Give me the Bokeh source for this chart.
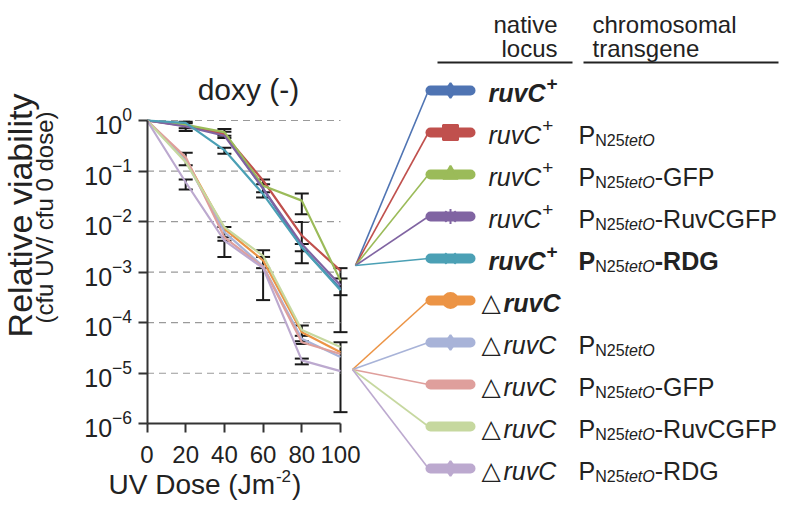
import math
from bokeh.plotting import figure
from bokeh.models import (Range1d, FixedTicker, Whisker, TeeHead, ColumnDataSource,
                          LinearAxis, LogAxis, LinearScale, LogScale)
from bokeh.embed import file_html
from bokeh.resources import INLINE
from bokeh.core.properties import value

# ---------------- data ----------------
dose = [0, 20, 40, 60, 80, 100]
x_ticks = [0, 20, 40, 60, 80, 100]
y_ticks = [1e-6, 1e-5, 1e-4, 1e-3, 1e-2, 1e-1, 1]

ruvC_wt = [1, 0.80, 0.55, 0.045, 0.0031, 0.00047]
ruvC_wt_P = [1, 0.78, 0.53, 0.065, 0.0053, 0.00107]
ruvC_wt_GFP = [1, 0.82, 0.59, 0.051, 0.026, 0.00068]
ruvC_wt_RuvCGFP = [1, 0.76, 0.50, 0.045, 0.0036, 0.00055]
ruvC_wt_RDG = [1, 0.90, 0.26, 0.035, 0.0031, 0.00044]
druvC = [1, 0.17, 0.0072, 0.0017, 6.5e-5, 2.6e-5]
druvC_P = [1, 0.16, 0.0062, 0.0013, 4.8e-5, 2.1e-5]
druvC_GFP = [1, 0.19, 0.0049, 0.00126, 4.1e-5, 2.4e-5]
druvC_RuvCGFP = [1, 0.15, 0.0078, 0.0021, 7.2e-5, 3.3e-5]
druvC_RDG = [1, 0.06, 0.0042, 0.0012, 1.8e-5, 1.1e-5]

series = [ruvC_wt, ruvC_wt_P, ruvC_wt_GFP, ruvC_wt_RuvCGFP, ruvC_wt_RDG,
          druvC, druvC_P, druvC_GFP, druvC_RuvCGFP, druvC_RDG]
colors = ["#4f74b3", "#c0504d", "#9bbb59", "#8064a2", "#4ba0b5",
          "#ec9445", "#a8b3d8", "#df9f9c", "#c6d89f", "#bca9cf"]

# error bars (dose, lower, upper)
err_dose = [20, 20, 40, 40, 40, 60, 60, 80, 80, 80, 100, 100,
            20, 20, 40, 40, 60, 60, 80, 80, 80, 100]
err_lo = [0.62, 0.70, 0.45, 0.50, 0.22, 0.030, 0.038, 0.014, 0.0015, 0.0026, 6.5e-5, 0.00035,
          0.13, 0.043, 0.0049, 0.0020, 0.00028, 0.0012, 3.8e-5, 4.3e-5, 1.5e-5, 1.7e-6]
err_hi = [0.95, 0.88, 0.68, 0.60, 0.29, 0.068, 0.055, 0.036, 0.0098, 0.0036, 0.0012, 0.00075,
          0.23, 0.068, 0.0078, 0.0042, 0.0027, 0.0020, 8.8e-5, 5.5e-5, 1.95e-5, 4.1e-5]

# legend entries
legend_delta = [False] * 5 + [True] * 5
legend_plus = [True] * 5 + [False] * 5
legend_has_P = [False, True, True, True, True, False, True, True, True, True]
legend_suffix = ["", "", "-GFP", "-RuvCGFP", "-RDG", "", "", "-GFP", "-RuvCGFP", "-RDG"]
legend_bold = [True, False, False, False, True, True, False, False, False, False]
legend_marker = ["diamond", "square", "triangle", "asterisk", "x",
                 "circle", "diamond", None, None, "diamond"]

FONT = "Liberation Sans"
TXT = "#222222"

# ---------------- layout constants (canvas pixels) ----------------
W, H = 789, 506
X0_PX, PX_X = 146.5, 1.935      # canvas x of dose 0, pixels per dose unit
Y0_PX, PX_DEC = 120.0, 50.55    # canvas y of viability 1, pixels per decade
TEXT_DY = -7                    # correction of glyph-text baseline placement

x_lo = -X0_PX / PX_X
x_hi = (W - X0_PX) / PX_X
y_hi = 10 ** (Y0_PX / PX_DEC)
y_lo = 10 ** (-(H - Y0_PX) / PX_DEC)


def iy(img_y):
    return H - img_y


p = figure(width=W, height=H, x_range=Range1d(x_lo, x_hi), y_range=Range1d(y_lo, y_hi),
           y_axis_type="log", x_axis_location=None, y_axis_location=None,
           output_backend="svg", toolbar_location=None, min_border=0)
p.y_scale = LogScale()
p.grid.visible = False
p.outline_line_color = None
p.extra_x_ranges = {"px": Range1d(0, W)}
p.extra_y_ranges = {"px": Range1d(0, H)}
p.extra_x_scales = {"px": LinearScale()}
p.extra_y_scales = {"px": LinearScale()}
PX = dict(x_range_name="px", y_range_name="px")

# dashed decade lines
dec = y_ticks[1:]
p.segment(x0=[0] * len(dec), x1=[100] * len(dec), y0=dec, y1=dec,
          line_color="#9a9a9a", line_width=1.2, line_dash="7 5")

for s, c in zip(series, colors):
    p.line(dose, s, line_color=c, line_width=2.2)

esrc = ColumnDataSource(dict(x=err_dose, lo=err_lo, hi=err_hi))
p.add_layout(Whisker(source=esrc, base="x", lower="lo", upper="hi",
                     line_color="#1a1a1a", line_width=2,
                     upper_head=TeeHead(size=14, line_width=2, line_color="#1a1a1a"),
                     lower_head=TeeHead(size=14, line_width=2, line_color="#1a1a1a")))

xax = LinearAxis(fixed_location=1e-6, ticker=FixedTicker(ticks=x_ticks), bounds=(0, 100))
yax = LogAxis(fixed_location=0, ticker=FixedTicker(ticks=y_ticks), bounds=(1e-6, 1))
for ax in (xax, yax):
    ax.axis_line_color = "#333333"
    ax.axis_line_width = 2
    ax.major_tick_line_color = "#333333"
    ax.major_tick_line_width = 2
    ax.major_tick_out = 9
    ax.major_tick_in = 0
    ax.minor_tick_line_color = None
    ax.major_label_text_font = FONT
    ax.major_label_text_color = TXT
xax.major_label_text_font_size = "24px"
yax.major_label_text_font_size = "25px"
xax.major_label_standoff = 13
yax.major_label_standoff = 6
p.add_layout(xax, "below")
p.add_layout(yax, "left")

# ---------------- texts ----------------
AW = {' ': 278, '+': 584, '-': 333, '2': 556, '5': 556, 'C': 722, 'D': 722, 'F': 611,
      'G': 778, 'N': 722, 'O': 778, 'P': 667, 'R': 722, 'e': 556, 'r': 333, 't': 278,
      'u': 556, 'v': 500, 'U': 722, 'V': 667, 'o': 556, 's': 500, '(': 333, 'J': 500,
      'm': 833, ')': 333}
AWB = dict(AW, r=389, u=611, v=556)


def tw(s, size, bold=False):
    t = AWB if bold else AW
    return sum(t.get(ch, 556) for ch in s) * size / 1000.0


tx, ty, tt, tsz, tst, tfn, tal = [], [], [], [], [], [], []


def piece(x, y, t, size, style="normal", font=FONT, align="left"):
    tx.append(x); ty.append(iy(y + TEXT_DY)); tt.append(t); tsz.append("%dpx" % size)
    tst.append(style); tfn.append(font); tal.append(align)


# title
piece(248, 96, "doxy (-)", 30, align="center")
# x title with superscript
xt = 108
piece(xt, 491, "UV Dose (Jm", 28)
xt += tw("UV Dose (Jm", 28) + 1
piece(xt, 482, "-2", 17)
xt += tw("-2", 17) + 1
piece(xt, 491, ")", 28)
# header of the legend
piece(557, 31, "native", 24, align="right")
piece(557, 55, "locus", 24, align="right")
piece(592, 31, "chromosomal", 24)
piece(592, 55, "transgene", 24)

# legend
row_y = [90 + 42 * i for i in range(10)]
conv = [(355, 265)] * 5 + [(352, 369)] * 5

for i, c in enumerate(colors):
    cx, cy = conv[i]
    p.line([cx, 428], [iy(cy), iy(row_y[i])], line_color=c, line_width=1.6, **PX)
    p.segment(x0=[430], x1=[470], y0=[iy(row_y[i])], y1=[iy(row_y[i])], line_color=c,
              line_width=10, line_cap="round", **PX)
    if legend_marker[i]:
        p.scatter([450], [iy(row_y[i])], marker=legend_marker[i], size=15, fill_color=c,
                  line_color=c, line_width=2, **PX)

for i in range(10):
    b = legend_bold[i]
    base = row_y[i] + 9
    if legend_delta[i]:
        piece(481, base, "\u25b3", 25, "normal", "DejaVu Sans")
        x = 503
    else:
        x = 488
    piece(x, base, "ruvC", 25, "bold italic" if b else "italic")
    x += tw("ruvC", 25, b) + 1
    if legend_plus[i]:
        piece(x, base - 9, "+", 19, "bold" if b else "normal")
    if legend_has_P[i]:
        x = 578
        piece(x, base, "P", 25, "bold" if b else "normal")
        x += tw("P", 25, b)
        piece(x, base + 6, "N25", 16)
        x += tw("N25", 16)
        piece(x, base + 6, "tetO", 16, "italic")
        x += tw("tetO", 16)
        if legend_suffix[i]:
            piece(x, base, legend_suffix[i], 25, "bold" if b else "normal")

tsrc = ColumnDataSource(dict(x=tx, y=ty, text=tt, size=tsz, style=tst, font=tfn, align=tal))
p.text(x="x", y="y", text="text", source=tsrc, text_font_size="size",
       text_font_style="style", text_font="font", text_align="align", text_color=TXT,
       text_baseline="alphabetic", **PX)

# rotated y-axis title (two lines)
p.text(x=[19, 44], y=[iy(215), iy(217)], text=["Relative viability", "(cfu UV/ cfu 0 dose)"],
       angle=math.pi / 2, text_align="center", text_baseline="middle",
       text_font=value(FONT), text_font_size=["34px", "24px"], text_color=TXT, **PX)

p.segment(x0=[437, 583], x1=[572, 778], y0=[iy(62), iy(62)], y1=[iy(62), iy(62)],
          line_color=TXT, line_width=2, **PX)

open("out.html", "w").write(file_html(p, INLINE))
